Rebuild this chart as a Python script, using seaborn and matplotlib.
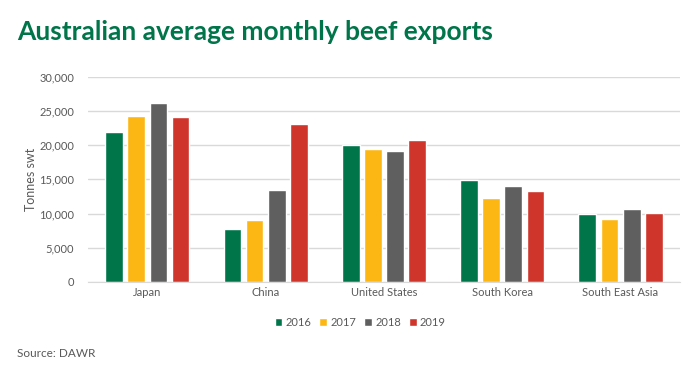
import pandas as pd
import matplotlib.pyplot as plt
import seaborn as sns

# Average monthly beef exports (tonnes swt)
markets = ["Japan", "China", "United States", "South Korea", "South East Asia"]
years = ["2016", "2017", "2018", "2019"]
exp_2016 = [21900, 7700, 20000, 14900, 9900]
exp_2017 = [24300, 9100, 19400, 12300, 9200]
exp_2018 = [26200, 13500, 19200, 14100, 10700]
exp_2019 = [24100, 23100, 20800, 13300, 10100]

colors = ["#00754A", "#FDB714", "#5F5F5F", "#D0352B"]
text_grey = "#595959"

df = pd.DataFrame({
    "market": markets * 4,
    "year": [y for y in years for _ in markets],
    "tonnes": exp_2016 + exp_2017 + exp_2018 + exp_2019,
})

sns.set_style("white")
plt.rcParams["font.family"] = ["Lato", "DejaVu Sans"]

fig = plt.figure(figsize=(7, 3.73), dpi=100)
ax = fig.add_axes([0.126, 0.244, 0.845, 0.55])

sns.barplot(data=df, x="market", y="tonnes", hue="year", palette=colors,
            width=0.75, gap=0.2, ax=ax, legend=True, saturation=1)

ax.set_ylim(0, 30000)
ax.set_yticks(range(0, 30001, 5000))
ax.set_yticklabels([f"{v:,}" for v in range(0, 30001, 5000)])
ax.grid(axis="y", color="#D9D9D9", linewidth=1)
ax.set_axisbelow(True)
for s in ["top", "right", "left"]:
    ax.spines[s].set_visible(False)
ax.spines["bottom"].set_color("#D9D9D9")
ax.tick_params(axis="both", length=0, colors=text_grey, labelsize=8)
ax.tick_params(axis="y", pad=10)
ax.set_xlabel("")
ax.set_ylabel("Tonnes swt", color=text_grey, fontsize=9, labelpad=2)

ax.legend(loc="upper center", bbox_to_anchor=(0.46, -0.12), ncol=4, frameon=False,
          fontsize=8, handlelength=0.7, handleheight=0.7, handletextpad=0.3,
          columnspacing=0.7, labelcolor=text_grey)

fig.text(0.024, 0.915, "Australian average monthly beef exports", color="#00754A",
         fontsize=19, fontweight="bold", va="center")
fig.text(0.024, 0.053, "Source: DAWR", color=text_grey, fontsize=8.5, va="center")

fig.savefig("out.png", dpi=100)
